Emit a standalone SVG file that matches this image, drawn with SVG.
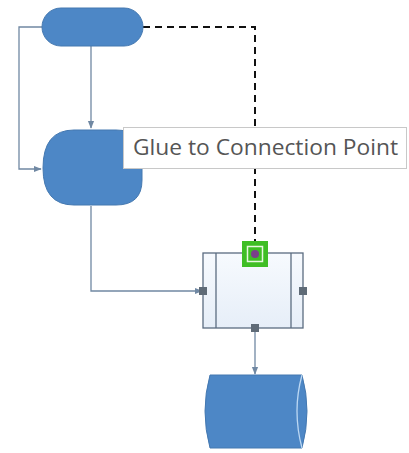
<svg xmlns="http://www.w3.org/2000/svg" width="409" height="453" viewBox="0 0 409 453">
<defs>
<style>
.shape{fill:#4d87c6;stroke:#4478b0;stroke-width:1}
.conn{fill:none;stroke:#7088a3;stroke-width:1.3}
.dash{fill:none;stroke:#111;stroke-width:2;stroke-dasharray:7,5}
.pt{fill:#5f6b77}
.tip{font-family:"Open Sans","Noto Sans",sans-serif;font-size:22px;fill:#555}
</style>
<marker id="arr" viewBox="0 0 10 10" refX="9" refY="5" markerWidth="6" markerHeight="6" orient="auto">
<path d="M0,1 L10,5 L0,9 z" fill="#7088a3"/>
</marker>
<linearGradient id="pg" x1="0" y1="0" x2="0" y2="1">
<stop offset="0" stop-color="#f7fafe"/>
<stop offset="1" stop-color="#e6eef8"/>
</linearGradient>
</defs>
<rect width="409" height="453" fill="#fff"/>
<g id="connectors">
<path class="conn" d="M42,27 H19 V169 H41" marker-end="url(#arr)"/>
<path class="conn" d="M91,46 V128" marker-end="url(#arr)"/>
<path class="conn" d="M91,206 V291 H202" marker-end="url(#arr)"/>
<path class="conn" d="M255,328 V374" marker-end="url(#arr)"/>
<path class="dash" d="M143,27 H255 V242"/>
</g>
<g id="terminator">
<rect class="shape" x="42" y="8" width="101" height="38" rx="19"/>
</g>
<g id="delay">
<path class="shape" d="M74,130 H116 Q142,130 142,156 V180 Q142,205 116,205 H74 Q43,205 43,168 Q43,130 74,130 Z"/>
</g>
<g id="subprocess">
<rect x="203" y="253" width="100" height="75" fill="url(#pg)" stroke="#5b6c80" stroke-width="1.3"/>
<line x1="216" y1="253" x2="216" y2="328" stroke="#5b6c80" stroke-width="1.3"/>
<line x1="291" y1="253" x2="291" y2="328" stroke="#5b6c80" stroke-width="1.3"/>
<rect class="pt" x="199" y="287" width="8" height="8"/>
<rect class="pt" x="299" y="287" width="8" height="8"/>
<rect class="pt" x="251" y="324" width="8" height="8"/>
<rect x="242" y="241" width="26" height="26" fill="#3fbe25"/>
<rect x="247.5" y="246.5" width="15" height="15" fill="none" stroke="#e8f8e0" stroke-width="1.5"/>
<circle cx="255" cy="254" r="4" fill="#7a3f8a"/>
</g>
<g id="storage">
<path class="shape" d="M210,375 H302 Q312,411 302,448 H210 Q200,411 210,375 Z"/>
<path d="M302,375 Q292,411 302,448" fill="none" stroke="#bcd8f3" stroke-width="1.3"/>
</g>
<g id="tooltip">
<rect x="123.5" y="127.5" width="283" height="41" fill="#fff" stroke="#c8c8c8" stroke-width="1"/>
<text class="tip" x="133" y="155" textLength="265" lengthAdjust="spacingAndGlyphs">Glue to Connection Point</text>
</g>
</svg>
